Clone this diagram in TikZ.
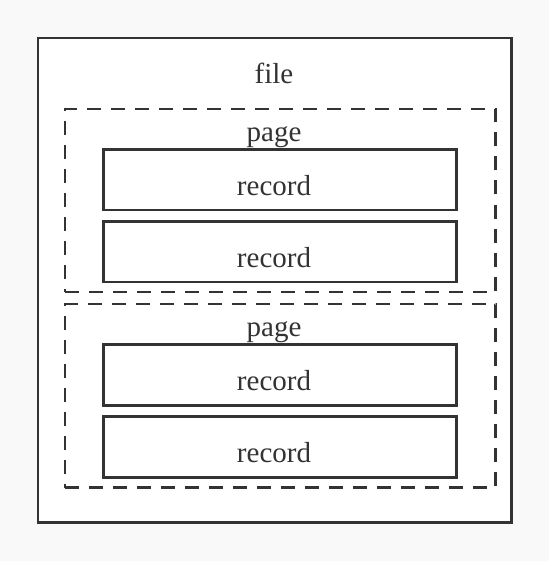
\documentclass[tikz,border=0pt]{standalone}
\usepackage{fontspec}
\setmainfont{Liberation Serif}
\definecolor{bgcol}{HTML}{F9F9F9}
\definecolor{ink}{HTML}{333333}
\begin{document}
\begin{tikzpicture}[x=1pt,y=1pt,
  box/.style={draw=ink,line width=2.6pt,fill=white,rectangle,inner sep=0pt,outer sep=0pt},
  pagebox/.style={draw=ink,line width=2.6pt,rectangle,inner sep=0pt,outer sep=0pt,dash pattern=on 14pt off 10pt},
  lbl/.style={anchor=base,inner sep=0pt,text=ink,font=\fontsize{29}{33}\selectfont}]
\fill[bgcol] (0,0) rectangle (549,-561);
\useasboundingbox (0,0) rectangle (549,-561);
\node[box,minimum width=473.5pt,minimum height=484.5pt] (file) at (274.75,-280.25) {};
\node[pagebox,minimum width=430.5pt,minimum height=183pt] (page1) at (280.25,-200.5) {};
\node[pagebox,minimum width=430.5pt,minimum height=183.5pt] (page2) at (280.25,-395.75) {};
\node[box,minimum width=353.4pt,minimum height=60.5pt] (r1) at (280,-179.75) {};
\node[box,minimum width=353.4pt,minimum height=60.5pt] (r2) at (280,-251.75) {};
\node[box,minimum width=353.4pt,minimum height=60.5pt] (r3) at (280,-375) {};
\node[box,minimum width=353.4pt,minimum height=60.5pt] (r4) at (280,-447) {};
\node[lbl] (tfile) at (274,-83.5) {file};
\node[lbl] (tp1) at (274,-141.5) {page};
\node[lbl] (tp2) at (274,-336.75) {page};
\node[lbl] (t1) at (274,-195.5) {record};
\node[lbl] (t2) at (274,-267.5) {record};
\node[lbl] (t3) at (274,-390.75) {record};
\node[lbl] (t4) at (274,-462.75) {record};
\end{tikzpicture}
\end{document}
